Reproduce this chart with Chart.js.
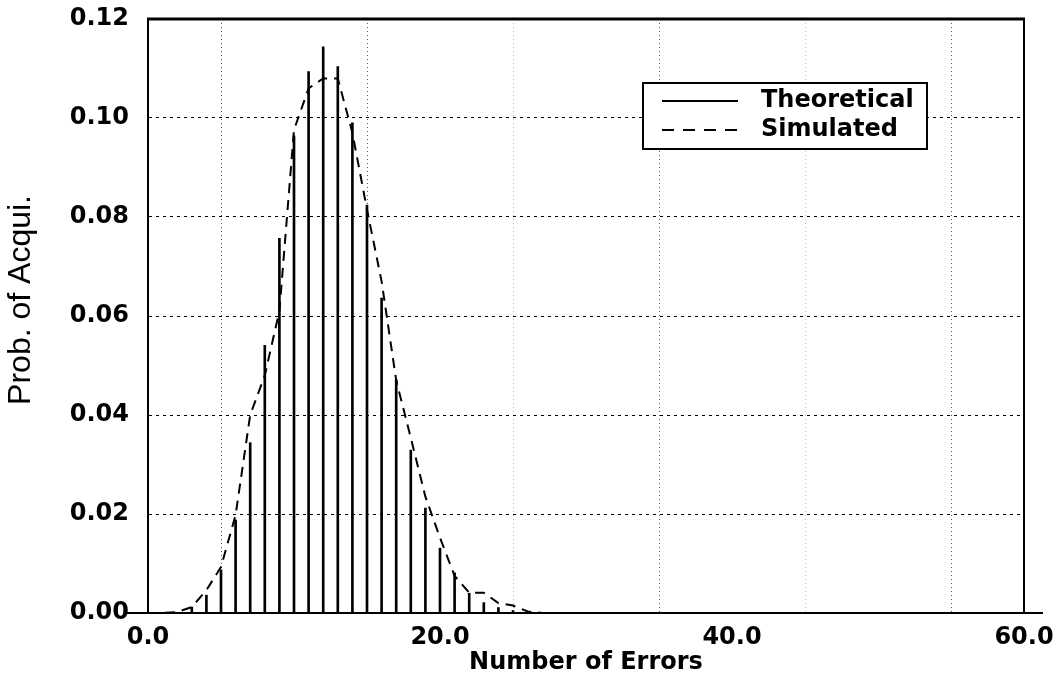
<!DOCTYPE html>
<html>
<head>
<meta charset="utf-8">
<script src="https://cdn.jsdelivr.net/npm/chart.js@4.4.0/dist/chart.umd.min.js"></script>
<style>
html,body{margin:0;padding:0;background:#fff;}
#wrap{width:1064px;height:690px;position:relative;}
</style>
</head>
<body>
<div id="wrap"><canvas id="c" width="1064" height="690"></canvas></div>
<script>
// ---- data ----
const theoreticalErrors = [3,4,5,6,7,8,9,10,11,12,13,14,15,16,17,18,19,20,21,22,23,24,25];
const theoreticalProb   = [0.0012,0.0036,0.0087,0.0188,0.0344,0.0541,0.0757,0.0964,0.1094,0.1144,0.1104,0.0990,0.0824,0.0636,0.0471,0.0329,0.0212,0.0131,0.0081,0.0040,0.0021,0.0011,0.0005];
const simulatedErrors   = [0,1,2,3,4,5,6,7,8,9,10,11,12,13,14,15,16,17,18,19,20,21,22,23,24,25,26,27];
const simulatedProb     = [0,0,0.0002,0.0012,0.0046,0.0093,0.0198,0.0400,0.0480,0.0610,0.0976,0.1060,0.1080,0.1080,0.0970,0.0815,0.0670,0.0470,0.0354,0.0235,0.0152,0.0075,0.0041,0.0041,0.0020,0.0015,0.0003,0];
const xTickValues = [0,20,40,60];
const xTickLabels = ['0.0','20.0','40.0','60.0'];
const yTickLabels = ['0.00','0.02','0.04','0.06','0.08','0.10','0.12'];
const seriesNames = ['Theoretical','Simulated'];
const axisTitles = {x:'Number of Errors', y:'Prob. of Acqui.'};

const FONT_B = "'DejaVu Sans', sans-serif";

const framePlugin = {
  id: 'frameAndLegend',
  afterDraw(chart) {
    const {ctx, chartArea: a} = chart;
    ctx.save();
    ctx.setLineDash([]);
    ctx.strokeStyle = '#000';
    ctx.lineWidth = 3;
    ctx.beginPath(); ctx.moveTo(a.left - 1, a.top); ctx.lineTo(a.right + 1, a.top); ctx.stroke();
    ctx.lineWidth = 2;
    ctx.beginPath(); ctx.moveTo(a.right, a.top); ctx.lineTo(a.right, a.bottom); ctx.stroke();
    ctx.beginPath(); ctx.moveTo(a.left - 21, a.bottom); ctx.lineTo(a.right + 19, a.bottom); ctx.stroke();

    // y-axis title
    ctx.save();
    ctx.translate(21, a.top + (a.bottom - a.top) * 0.473);
    ctx.rotate(-Math.PI / 2);
    ctx.font = "32px 'Liberation Sans', Arial, sans-serif";
    ctx.fillStyle = '#000';
    ctx.textAlign = 'center';
    ctx.textBaseline = 'middle';
    ctx.fillText(axisTitles.y, 0, 0);
    ctx.restore();

    // legend box
    const bx = a.left + 495, by = a.top + 64, bw = 284, bh = 66;
    ctx.fillStyle = '#fff';
    ctx.fillRect(bx, by, bw, bh);
    ctx.lineWidth = 2;
    ctx.strokeRect(bx, by, bw, bh);
    const ds = chart.data.datasets;
    const rows = [by + 18, by + 47];
    ctx.font = "bold 24px " + FONT_B;
    ctx.textBaseline = 'middle';
    ctx.textAlign = 'left';
    ctx.fillStyle = '#000';
    ds.forEach((d, i) => {
      ctx.lineWidth = 2;
      ctx.setLineDash(d.type === 'line' ? [12, 9] : []);
      ctx.beginPath(); ctx.moveTo(bx + 19, rows[i]); ctx.lineTo(bx + 95, rows[i]); ctx.stroke();
      ctx.setLineDash([]);
      ctx.fillText(d.label, bx + 118, rows[i]);
    });
    ctx.restore();
  }
};

new Chart(document.getElementById('c'), {
  type: 'bar',
  data: {
    datasets: [
      {
        type: 'bar',
        label: seriesNames[0],
        data: theoreticalErrors.map((x, i) => ({x: x, y: theoreticalProb[i]})),
        backgroundColor: '#000',
        borderWidth: 0,
        barThickness: 2,
        order: 2
      },
      {
        type: 'line',
        label: seriesNames[1],
        data: simulatedErrors.map((x, i) => ({x: x, y: simulatedProb[i]})),
        borderColor: '#000',
        borderWidth: 2,
        borderDash: [10, 7],
        pointRadius: 0,
        tension: 0,
        fill: false,
        order: 1
      }
    ]
  },
  options: {
    responsive: false,
    animation: false,
    devicePixelRatio: 1,
    layout: {padding: {left: 0, right: 40, top: 19, bottom: 0}},
    plugins: {legend: {display: false}, tooltip: {enabled: false}},
    scales: {
      x: {
        type: 'linear',
        min: 0, max: 60,
        offset: false,
        afterFit(s) { s.height = 77; s.paddingLeft = 0; s.paddingRight = 0; },
        ticks: {
          stepSize: 10,
          autoSkip: false,
          maxRotation: 0,
          padding: 10,
          color: '#000',
          font: {family: FONT_B, size: 24, weight: 'bold'},
          callback: (v) => { const k = xTickValues.indexOf(v); return k >= 0 ? xTickLabels[k] : ''; }
        },
        grid: {
          color: (c) => (c.tick && (c.tick.value === 30 || c.tick.value === 50)) ? '#bbb' : '#555',
          lineWidth: 1, drawTicks: false
        },
        border: {display: true, color: '#000', width: 2, dash: [1, 3]},
        title: {display: true, text: axisTitles.x, color: '#000', padding: {top: 0, bottom: 13},
                font: {family: FONT_B, size: 24, weight: 'bold'}}
      },
      y: {
        min: 0, max: 0.12,
        afterFit(s) { s.width = 148; s.paddingTop = 0; s.paddingBottom = 0; },
        ticks: {
          stepSize: 0.02,
          padding: 19,
          color: '#000',
          font: {family: FONT_B, size: 24, weight: 'bold'},
          callback: (v, i) => yTickLabels[i]
        },
        grid: {color: '#000', lineWidth: 1, drawTicks: false},
        border: {display: true, color: '#000', width: 2, dash: [3, 4]},
        title: {display: false}
      }
    }
  },
  plugins: [framePlugin]
});
</script>
</body>
</html>
